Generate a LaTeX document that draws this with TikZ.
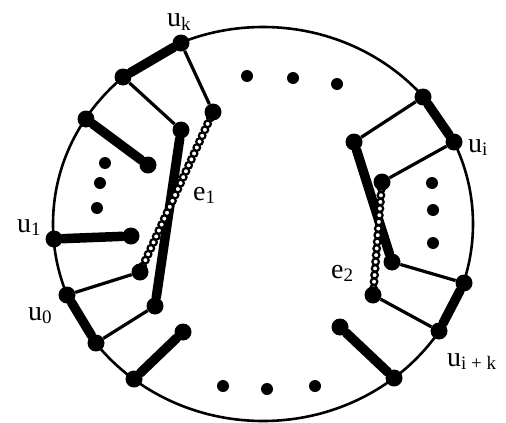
\documentclass[tikz,border=0pt]{standalone}
\usepackage{fontspec}
\setmainfont{Liberation Serif}
\usetikzlibrary{calc,backgrounds}
\newcommand{\sbs}[1]{\raisebox{-0.25ex}{\fontsize{19}{19}\selectfont #1}}
\newcommand{\linkchain}[3]{\foreach \t in {0,...,#3}{\draw[link] ($(#1.center)!\t/#3!(#2.center)$) circle (3.3pt);}}

\begin{document}
\begin{tikzpicture}[x=1pt, y=-1pt]
  \tikzset{
    vtx/.style={circle, fill=black, inner sep=0pt, minimum size=17pt},
    spot/.style={circle, fill=black, inner sep=0pt, minimum size=12pt},
    heavy/.style={line width=9.5pt, line cap=round},
    light/.style={line width=3.2pt},
    rim/.style={line width=2.6pt},
    link/.style={line width=2.2pt, fill=white},
    lbl/.style={font=\fontsize{28}{30}\selectfont, inner sep=0pt, anchor=base west}
  }
  \useasboundingbox (0,0) rectangle (506,423);

  % left group
  \node[vtx] (uk) at (181,43) {};
  \node[vtx] (pA) at (123,77) {};
  \node[vtx] (pB) at (86,119) {};
  \node[vtx] (pC) at (148,165) {};
  \node[vtx] (pD) at (181,130) {};
  \node[vtx] (pE) at (213,112) {};
  \node[vtx] (pF) at (155,306) {};
  \node[vtx] (pG) at (140,272) {};
  \node[vtx] (u1) at (54,239) {};
  \node[vtx] (pH) at (131,236) {};
  \node[vtx] (u0) at (67,295) {};
  \node[vtx] (pI) at (96,343) {};
  \node[vtx] (pJ) at (134,379) {};
  \node[vtx] (pK) at (183,332) {};

  % right group
  \node[vtx] (pP) at (423,97) {};
  \node[vtx] (ui) at (454,142) {};
  \node[vtx] (pQ) at (354,142) {};
  \node[vtx] (pR) at (392,262) {};
  \node[vtx] (pS) at (382,182) {};
  \node[vtx] (pT) at (373,295) {};
  \node[vtx] (pU) at (464,283) {};
  \node[vtx] (uik) at (439,331) {};
  \node[vtx] (pW) at (394,378) {};
  \node[vtx] (pX) at (340,327) {};

  % dots
  \foreach \p [count=\i] in {(247,76),(293,78),(337,84)} \node[spot] (top\i) at \p {};
  \foreach \p [count=\i] in {(105,163),(100,183),(97,208)} \node[spot] (lft\i) at \p {};
  \foreach \p [count=\i] in {(432,183),(433,210),(433,243)} \node[spot] (rgt\i) at \p {};
  \foreach \p [count=\i] in {(223,386),(267,389),(315,386)} \node[spot] (bot\i) at \p {};

  \begin{scope}[on background layer]
    \draw[rim] (263,224) ellipse [x radius=210, y radius=197];
    \draw[heavy] (uk) -- (pA);
    \draw[heavy] (pB) -- (pC);
    \draw[heavy] (pD) -- (pF);
    \draw[heavy] (u1) -- (pH);
    \draw[heavy] (u0) -- (pI);
    \draw[heavy] (pJ) -- (pK);
    \draw[light] (pA) -- (pD);
    \draw[light] (uk) -- (pE);
    \draw[light] (u0) -- (pG);
    \draw[light] (pI) -- (pF);
    \draw[heavy] (pP) -- (ui);
    \draw[heavy] (pQ) -- (pR);
    \draw[heavy] (pU) -- (uik);
    \draw[heavy] (pW) -- (pX);
    \draw[light] (pP) -- (pQ);
    \draw[light] (ui) -- (pS);
    \draw[light] (pR) -- (pU);
    \draw[light] (pT) -- (uik);
    \linkchain{pE}{pG}{27}
    \linkchain{pS}{pT}{17}
  \end{scope}

  % labels
  \node[lbl] (luk) at (167,27) {u\sbs{k}};
  \node[lbl] (lui) at (468,152) {u\sbs{i}};
  \node[lbl] (luik) at (447,366) {u\sbs{i + k}};
  \node[lbl] (lu1) at (17,232) {u\sbs{1}};
  \node[lbl] (lu0) at (28,320) {u\sbs{0}};
  \node[lbl] (le1) at (193,200) {e\sbs{1}};
  \node[lbl] (le2) at (331,278) {e\sbs{2}};
\end{tikzpicture}
\end{document}
